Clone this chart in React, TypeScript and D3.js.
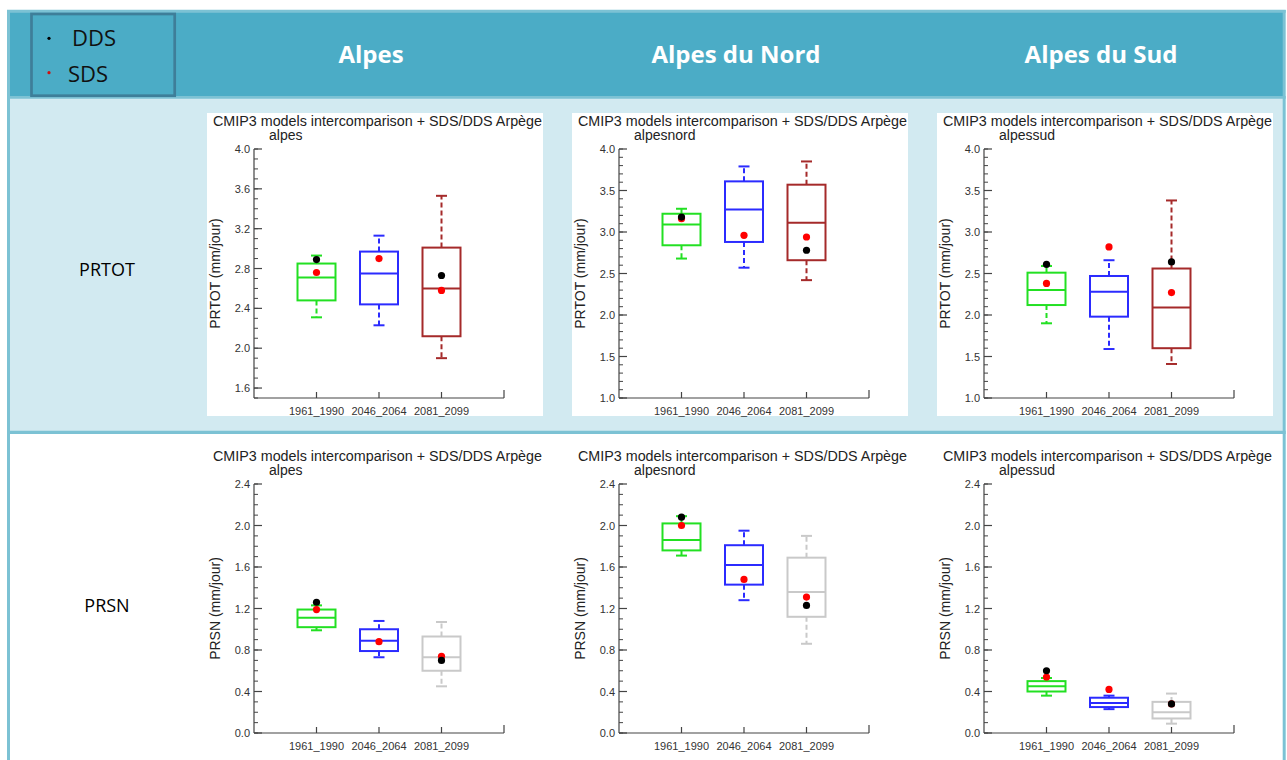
import React from "react";
import * as d3 from "d3";

// ---------- data ----------
const periods = ["1961_1990", "2046_2064", "2081_2099"];
const regionTitles = ["Alpes", "Alpes du Nord", "Alpes du Sud"];
const regionCodes = ["alpes", "alpesnord", "alpessud"];
const variables = ["PRTOT", "PRSN"];
const yLabels = ["PRTOT (mm/jour)", "PRSN (mm/jour)"];
const chartTitle = "CMIP3 models intercomparison + SDS/DDS Arpège";
const legendLabels = ["DDS", "SDS"];

// box stats per period: [whiskerLow, q1, median, q3, whiskerHigh]
const prtotAlpes = [
  [2.31, 2.48, 2.71, 2.85, 2.93],
  [2.23, 2.44, 2.75, 2.97, 3.13],
  [1.9, 2.12, 2.6, 3.01, 3.53],
];
const prtotAlpesNord = [
  [2.68, 2.84, 3.09, 3.22, 3.28],
  [2.57, 2.88, 3.27, 3.61, 3.79],
  [2.42, 2.66, 3.11, 3.57, 3.85],
];
const prtotAlpesSud = [
  [1.9, 2.12, 2.3, 2.51, 2.59],
  [1.59, 1.98, 2.28, 2.47, 2.66],
  [1.41, 1.6, 2.09, 2.56, 3.38],
];
const prsnAlpes = [
  [0.99, 1.02, 1.11, 1.19, 1.23],
  [0.73, 0.79, 0.89, 1.0, 1.08],
  [0.45, 0.6, 0.73, 0.93, 1.07],
];
const prsnAlpesNord = [
  [1.71, 1.76, 1.86, 2.02, 2.09],
  [1.28, 1.43, 1.62, 1.81, 1.95],
  [0.86, 1.12, 1.36, 1.69, 1.9],
];
const prsnAlpesSud = [
  [0.36, 0.4, 0.45, 0.5, 0.53],
  [0.23, 0.25, 0.29, 0.34, 0.36],
  [0.09, 0.14, 0.2, 0.3, 0.38],
];

// points (null = not shown)
const prtotAlpesDDS = [2.89, null, 2.73];
const prtotAlpesSDS = [2.76, 2.9, 2.58];
const prtotAlpesNordDDS = [3.18, null, 2.78];
const prtotAlpesNordSDS = [3.16, 2.96, 2.94];
const prtotAlpesSudDDS = [2.61, null, 2.64];
const prtotAlpesSudSDS = [2.38, 2.82, 2.27];
const prsnAlpesDDS = [1.26, null, 0.7];
const prsnAlpesSDS = [1.19, 0.88, 0.74];
const prsnAlpesNordDDS = [2.08, null, 1.23];
const prsnAlpesNordSDS = [2.0, 1.48, 1.31];
const prsnAlpesSudDDS = [0.6, null, 0.28];
const prsnAlpesSudSDS = [0.54, 0.42, 0.28];

// axis ranges and tick labels
const prtotAlpesDomain = [1.5, 4.0];
const prtotAlpesTicks = ["1.6", "2.0", "2.4", "2.8", "3.2", "3.6", "4.0"];
const prtotRegionDomain = [1.0, 4.0];
const prtotRegionTicks = ["1.0", "1.5", "2.0", "2.5", "3.0", "3.5", "4.0"];
const prsnDomain = [0.0, 2.4];
const prsnTicks = ["0.0", "0.4", "0.8", "1.2", "1.6", "2.0", "2.4"];

const prtotColors = ["#22e022", "#2b2bff", "#a52a2a"];
const prsnColors = ["#22e022", "#2b2bff", "#c9c9c9"];

const boxes = [
  [prtotAlpes, prtotAlpesNord, prtotAlpesSud],
  [prsnAlpes, prsnAlpesNord, prsnAlpesSud],
];
const ddsPts = [
  [prtotAlpesDDS, prtotAlpesNordDDS, prtotAlpesSudDDS],
  [prsnAlpesDDS, prsnAlpesNordDDS, prsnAlpesSudDDS],
];
const sdsPts = [
  [prtotAlpesSDS, prtotAlpesNordSDS, prtotAlpesSudSDS],
  [prsnAlpesSDS, prsnAlpesNordSDS, prsnAlpesSudSDS],
];
const domains = [
  [prtotAlpesDomain, prtotRegionDomain, prtotRegionDomain],
  [prsnDomain, prsnDomain, prsnDomain],
];
const tickSets = [
  [prtotAlpesTicks, prtotRegionTicks, prtotRegionTicks],
  [prsnTicks, prsnTicks, prsnTicks],
];
const colorSets = [prtotColors, prsnColors];

// ---------- layout ----------
const W = 1287;
const H = 760;
const panelX = [207, 572, 937];
const panelY = [113, 448];
const PW = 336;
const PH = 303;
const PL = 47, PR = 297, PT = 36, PB = 285;
const chartFont = "'Liberation Sans', Arial, Helvetica, sans-serif";
const tableFont = "'Open Sans', 'Noto Sans', sans-serif";
const axisColor = "#444";

function Panel({ row, col }: { row: number; col: number }) {
  const dom = domains[row][col];
  const ticks = tickSets[row][col];
  const colors = colorSets[row];
  const y = d3.scaleLinear().domain(dom).range([PB, PT]);
  const x = d3.scaleLinear().domain([0, periods.length + 1]).range([PL, PR]);
  const minor = d3.range(Math.round(dom[0] * 10), Math.round(dom[1] * 10) + 1).map((v) => v / 10);
  const bw = 19;
  const cw = 5.5;
  return (
    <g transform={`translate(${panelX[col]},${panelY[row]})`}>
      <rect x={0} y={0} width={PW} height={PH} fill="#ffffff" />
      <text x={6} y={13} fontFamily={chartFont} fontSize={14} fill="#222" textLength={329} lengthAdjust="spacingAndGlyphs">
        {chartTitle}
      </text>
      <text x={62} y={27} fontFamily={chartFont} fontSize={14} fill="#222">
        {regionCodes[col]}
      </text>
      <text
        transform={`translate(13,${(PT + PB) / 2}) rotate(-90)`}
        textAnchor="middle"
        fontFamily={chartFont}
        fontSize={14}
        fill="#222"
      >
        {yLabels[row]}
      </text>
      {/* minor ticks */}
      {minor.map((v, i) => (
        <line key={"m" + i} x1={PL} x2={PL + 4} y1={y(v)} y2={y(v)} stroke={axisColor} strokeWidth={1} />
      ))}
      {ticks.map((t) => (
        <g key={t}>
          <line x1={PL} x2={PL + 8} y1={y(+t)} y2={y(+t)} stroke={axisColor} strokeWidth={1.2} />
          <text x={PL - 4} y={y(+t) + 4} textAnchor="end" fontFamily={chartFont} fontSize={11} fill="#333">
            {t}
          </text>
        </g>
      ))}
      <line x1={PL} x2={PL} y1={PT} y2={PB} stroke={axisColor} strokeWidth={1.2} />
      <line x1={PL} x2={PR} y1={PB} y2={PB} stroke={axisColor} strokeWidth={1.2} />
      <line x1={PR} x2={PR} y1={PB} y2={PB - 8} stroke={axisColor} strokeWidth={1.2} />
      {periods.map((p, i) => (
        <g key={p}>
          <line x1={x(i + 1)} x2={x(i + 1)} y1={PB} y2={PB - 6} stroke={axisColor} strokeWidth={1.2} />
          <text x={x(i + 1)} y={PB + 17} textAnchor="middle" fontFamily={chartFont} fontSize={11} fill="#333">
            {p}
          </text>
        </g>
      ))}
      {boxes[row][col].map((b, i) => {
        const cx = x(i + 1);
        const c = colors[i];
        const [lo, q1, med, q3, hi] = b;
        return (
          <g key={"b" + i} stroke={c} strokeWidth={2} fill="none">
            <line x1={cx} x2={cx} y1={y(q3)} y2={y(hi)} strokeDasharray="5,3" />
            <line x1={cx} x2={cx} y1={y(q1)} y2={y(lo)} strokeDasharray="5,3" />
            <line x1={cx - cw} x2={cx + cw} y1={y(hi)} y2={y(hi)} />
            <line x1={cx - cw} x2={cx + cw} y1={y(lo)} y2={y(lo)} />
            <rect x={cx - bw} y={y(q3)} width={2 * bw} height={y(q1) - y(q3)} />
            <line x1={cx - bw} x2={cx + bw} y1={y(med)} y2={y(med)} />
          </g>
        );
      })}
      {sdsPts[row][col].map((v, i) =>
        v == null ? null : <circle key={"s" + i} cx={x(i + 1)} cy={y(v)} r={3.6} fill="#ff0000" />
      )}
      {ddsPts[row][col].map((v, i) =>
        v == null ? null : <circle key={"d" + i} cx={x(i + 1)} cy={y(v)} r={3.6} fill="#000000" />
      )}
    </g>
  );
}

export default function App() {
  const headerCenters = [371, 736, 1101];
  const rowLabelY = [276, 612];
  return (
    <svg width={W} height={H} style={{ position: "absolute", left: 0, top: 0 }}>
      <rect x={0} y={0} width={W} height={H} fill="#ffffff" />
      {/* table fills */}
      <rect x={8.5} y={11.5} width={1284.2 - 8.5} height={97 - 11.5} fill="#4BACC6" />
      <rect x={8.5} y={97} width={1284.2 - 8.5} height={432.3 - 97} fill="#D2EAF1" />
      {/* borders */}
      <line x1={8.5} x2={8.5} y1={10} y2={H} stroke="#7CC2D4" strokeWidth={3} />
      <line x1={1284.2} x2={1284.2} y1={10} y2={H} stroke="#7CC2D4" strokeWidth={3} />
      <line x1={7} x2={1285.7} y1={11.3} y2={11.3} stroke="#7CC2D4" strokeWidth={3} />
      <line x1={7} x2={1285.7} y1={97.3} y2={97.3} stroke="#7CC2D4" strokeWidth={2.7} />
      <line x1={7} x2={1285.7} y1={432.3} y2={432.3} stroke="#7CC2D4" strokeWidth={3.3} />
      {/* legend box */}
      <rect x={31.5} y={14} width={143.2} height={81.7} fill="none" stroke="#3E7E99" strokeWidth={2.7} />
      <circle cx={49} cy={38.3} r={1.6} fill="#000" />
      <circle cx={49} cy={72.7} r={1.6} fill="#d01010" />
      <text x={72} y={45.7} fontFamily={tableFont} fontSize={22} fill="#111">
        {legendLabels[0]}
      </text>
      <text x={68} y={81.7} fontFamily={tableFont} fontSize={22} fill="#111">
        {legendLabels[1]}
      </text>
      {regionTitles.map((t, i) => (
        <text
          key={t}
          x={headerCenters[i]}
          y={63.3}
          textAnchor="middle"
          fontFamily={tableFont}
          fontWeight="bold"
          fontSize={24}
          fill="#ffffff"
        >
          {t}
        </text>
      ))}
      {variables.map((v, i) => (
        <text key={v} x={107} y={rowLabelY[i]} textAnchor="middle" fontFamily={tableFont} fontSize={18} fill="#000">
          {v}
        </text>
      ))}
      {variables.map((_, r) => regionCodes.map((_, c) => <Panel key={r + "-" + c} row={r} col={c} />))}
    </svg>
  );
}
